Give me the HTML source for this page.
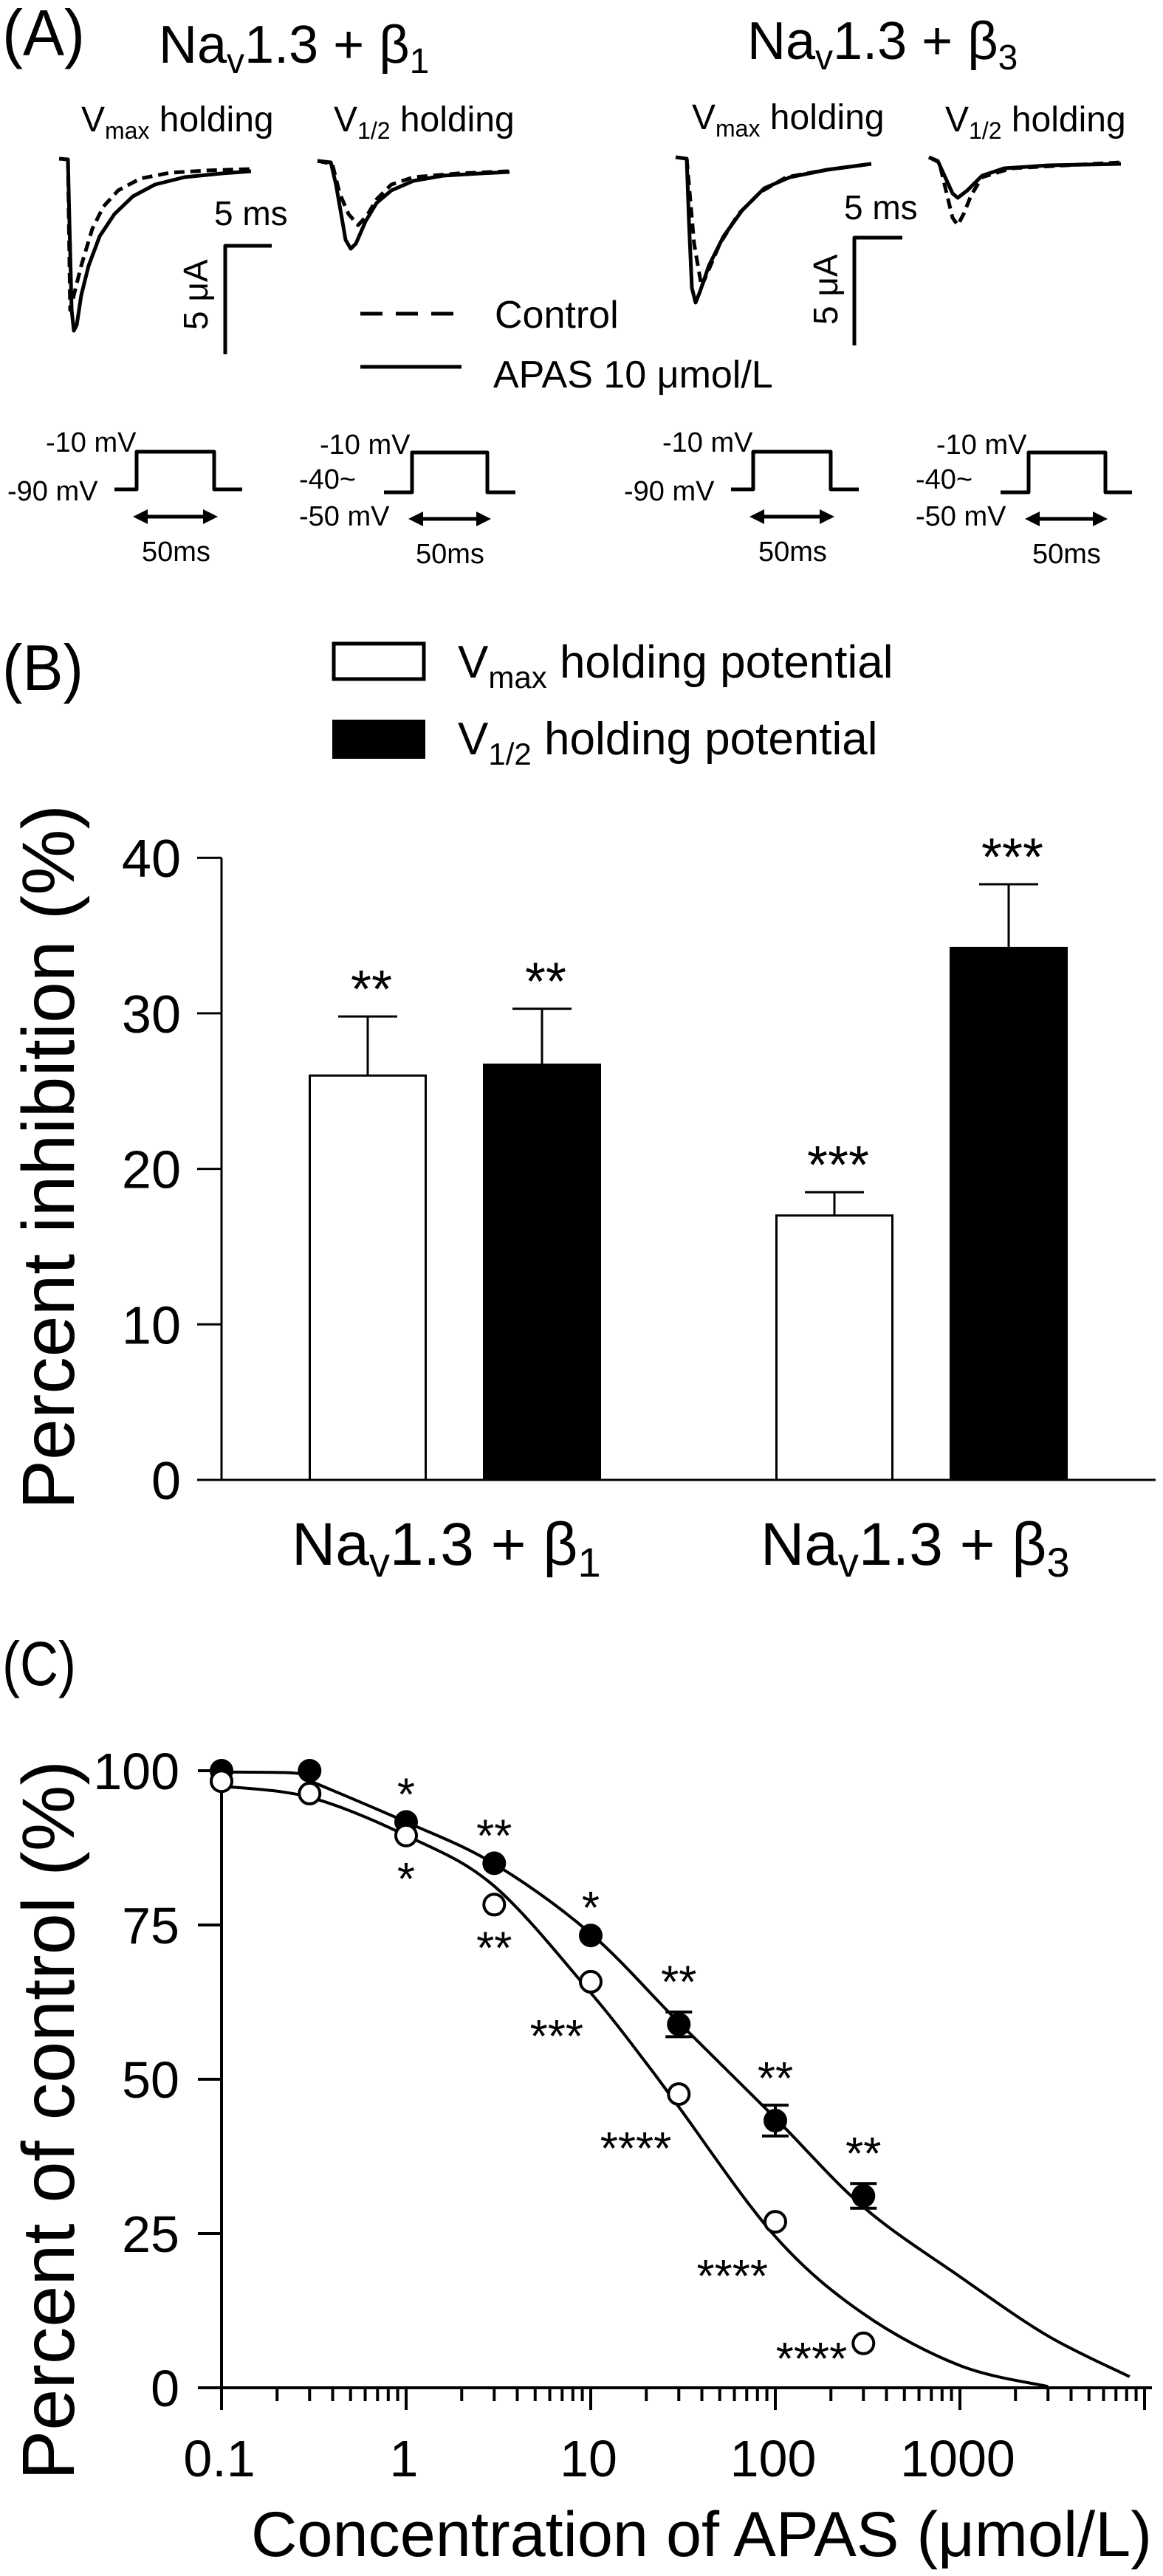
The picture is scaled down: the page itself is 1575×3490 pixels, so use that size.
<!DOCTYPE html>
<html><head><meta charset="utf-8"><style>
html,body{margin:0;padding:0;background:#fff}
svg{display:block}
text{font-family:"Liberation Sans",sans-serif;fill:#000}
</style></head><body>
<svg id="fig" xmlns="http://www.w3.org/2000/svg" width="1575" height="3490" viewBox="0 0 1575 3490">
<rect width="1575" height="3490" fill="#fff"/>
<!-- PANEL A -->
<g id="panelA">
<text x="3" y="75" font-size="88" textLength="112" lengthAdjust="spacingAndGlyphs">(A)</text>
<text x="215" y="85" font-size="72">Na<tspan font-size="48" dy="14">v</tspan><tspan dy="-14">1.3 + β</tspan><tspan font-size="48" dy="14">1</tspan></text>
<text x="1012" y="80" font-size="72">Na<tspan font-size="48" dy="14">v</tspan><tspan dy="-14">1.3 + β</tspan><tspan font-size="48" dy="14">3</tspan></text>
<text x="110" y="178" font-size="48">V<tspan font-size="32" dy="10">max</tspan><tspan dy="-10"> holding</tspan></text>
<text x="452" y="178" font-size="48">V<tspan font-size="32" dy="10">1/2</tspan><tspan dy="-10"> holding</tspan></text>
<text x="937" y="175" font-size="48">V<tspan font-size="32" dy="10">max</tspan><tspan dy="-10"> holding</tspan></text>
<text x="1280" y="178" font-size="48">V<tspan font-size="32" dy="10">1/2</tspan><tspan dy="-10"> holding</tspan></text>
<g fill="none" stroke="#000" stroke-width="5" stroke-linejoin="round">
<path d="M80,215 L92,216 L94,300 L97,420 L100,448 L104,440 L110,400 L120,360 L135,320 L155,290 L180,266 L210,250 L250,240 L300,235 L340,232"/>
<path stroke-dasharray="14 8" d="M92,216 L95,420 L100,400 L110,360 L125,310 L140,280 L160,258 L190,242 L230,234 L280,231 L340,229"/>
<path d="M430,218 L448,220 L455,250 L462,290 L468,325 L475,337 L482,330 L495,300 L510,275 L530,258 L560,245 L600,238 L650,235 L690,233"/>
<path stroke-dasharray="14 8" d="M430,218 L450,222 L460,262 L472,290 L485,305 L497,292 L510,270 L530,250 L560,240 L620,235 L690,232"/>
<path d="M915,213 L930,215 L933,300 L937,390 L942,410 L948,395 L960,360 L980,320 L1005,285 L1035,255 L1070,240 L1120,230 L1180,222"/>
<path stroke-dasharray="14 8" d="M930,215 L940,330 L950,388 L960,365 L975,330 L1000,290 L1030,260 L1065,240 L1120,230 L1180,222"/>
<path d="M1258,213 L1270,218 L1280,240 L1290,262 L1297,268 L1310,258 L1330,238 L1360,228 L1420,224 L1518,222"/>
<path stroke-dasharray="14 8" d="M1258,213 L1272,220 L1282,262 L1290,295 L1297,305 L1305,290 L1315,265 L1330,240 L1370,228 L1518,220"/>
<path d="M368,333 L305,333 L305,480"/>
<path d="M1222,322 L1157,322 L1157,468"/>
<path stroke-dasharray="30 18" d="M488,425 L618,425"/>
<path d="M488,497 L625,497"/>
<path d="M155,663 L185,663 L185,612 L290,612 L290,663 L328,663"/>
<path d="M520,667 L558,667 L558,613 L660,613 L660,667 L698,667"/>
<path d="M990,663 L1020,663 L1020,612 L1125,612 L1125,663 L1163,663"/>
<path d="M1355,667 L1393,667 L1393,613 L1497,613 L1497,667 L1533,667"/>
<path d="M195,700 L280,700"/>
<path d="M568,703 L650,703"/>
<path d="M1030,700 L1115,700"/>
<path d="M1403,703 L1485,703"/>
</g>
<g fill="#000">
<path d="M180,700 L200,690 L200,710Z"/><path d="M295,700 L275,690 L275,710Z"/>
<path d="M553,703 L573,693 L573,713Z"/><path d="M665,703 L645,693 L645,713Z"/>
<path d="M1015,700 L1035,690 L1035,710Z"/><path d="M1130,700 L1110,690 L1110,710Z"/>
<path d="M1388,703 L1408,693 L1408,713Z"/><path d="M1500,703 L1480,693 L1480,713Z"/>
</g>
<text x="290" y="305" font-size="46">5 ms</text>
<text transform="translate(281,447) rotate(-90)" font-size="46">5 μA</text>
<text x="1143" y="297" font-size="46">5 ms</text>
<text transform="translate(1134,440) rotate(-90)" font-size="46">5 μA</text>
<text x="670" y="444" font-size="52">Control</text>
<text x="668" y="525" font-size="52">APAS 10 μmol/L</text>
<g font-size="38">
<text x="62" y="612">-10 mV</text><text x="10" y="678">-90  mV</text><text x="192" y="760">50ms</text>
<text x="433" y="615">-10 mV</text><text x="405" y="662">-40~</text><text x="405" y="712">-50  mV</text><text x="563" y="763">50ms</text>
<text x="897" y="612">-10 mV</text><text x="845" y="678">-90  mV</text><text x="1027" y="760">50ms</text>
<text x="1268" y="615">-10 mV</text><text x="1240" y="662">-40~</text><text x="1240" y="712">-50  mV</text><text x="1398" y="763">50ms</text>
</g>
</g>
<!-- PANEL B -->
<g id="panelB">
<text x="3" y="935" font-size="88" textLength="110" lengthAdjust="spacingAndGlyphs">(B)</text>
<rect x="452" y="872" width="122" height="48" fill="#fff" stroke="#000" stroke-width="5"/>
<rect x="450" y="975" width="126" height="53" fill="#000"/>
<text x="620" y="918" font-size="62">V<tspan font-size="42" dy="14">max</tspan><tspan dy="-14"> holding potential</tspan></text>
<text x="620" y="1022" font-size="62">V<tspan font-size="42" dy="14">1/2</tspan><tspan dy="-14"> holding potential</tspan></text>
<text transform="translate(100,2045) rotate(-90)" font-size="100" textLength="955" lengthAdjust="spacingAndGlyphs">Percent inhibition (%)</text>
<text x="395" y="2120" font-size="82">Na<tspan font-size="56" dy="16">v</tspan><tspan dy="-16">1.3 + β</tspan><tspan font-size="56" dy="16">1</tspan></text>
<text x="1030" y="2120" font-size="82">Na<tspan font-size="56" dy="16">v</tspan><tspan dy="-16">1.3 + β</tspan><tspan font-size="56" dy="16">3</tspan></text>
<g id="bchart"></g>
</g>
<!-- PANEL C -->
<g id="panelC">
<text x="3" y="2283" font-size="84" textLength="100" lengthAdjust="spacingAndGlyphs">(C)</text>
<text transform="translate(100,3360) rotate(-90)" font-size="100" textLength="975" lengthAdjust="spacingAndGlyphs">Percent of control (%)</text>
<text x="340" y="3463" font-size="86" textLength="1220" lengthAdjust="spacingAndGlyphs">Concentration of APAS (μmol/L)</text>
<g id="cchart"></g>
</g>
</svg>
<script>
// ---- Panel B data ----
const bGroups = ["Nav1.3 + β1", "Nav1.3 + β3"];
const bVmax = [26.0, 17.0];
const bVmaxErr = [3.8, 1.5];
const bVhalf = [26.7, 34.2];
const bVhalfErr = [3.6, 4.1];
const bVmaxSig = ["**", "***"];
const bVhalfSig = ["**", "***"];
const bTicks = [0, 10, 20, 30, 40];

// ---- Panel C data ----
const cConc = [0.1, 0.3, 1, 3, 10, 30, 100, 300];
const cFilled = [100, 100, 91.7, 85.0, 73.3, 58.9, 43.3, 31.1];
const cFilledErr = [0, 0, 0, 0, 0, 2.0, 2.5, 2.0];
const cOpen = [98.3, 96.3, 89.5, 78.3, 65.8, 47.6, 26.9, 7.2];
const cFilledSig = ["", "", "*", "**", "*", "**", "**", "**"];
const cOpenSig = ["", "", "*", "**", "***", "****", "****", "****"];
const cFitFilledX = [0.1, 0.25, 0.3, 1, 3, 10, 30, 100, 300, 1000, 3000, 8300];
const cFitFilledY = [99.8, 99.6, 98.4, 91.7, 84.9, 73.6, 59.2, 43.7, 29.3, 18.0, 8.4, 1.8];
const cFitOpenX = [0.1, 0.3, 1, 3, 10, 20, 30, 100, 300, 1000, 3000];
const cFitOpenY = [97.5, 95.7, 89.5, 81.3, 64.0, 52.6, 45.5, 24.5, 12.0, 3.6, 0.2];
const cYTicks = [0, 25, 50, 75, 100];
const cXTicks = [0.1, 1, 10, 100, 1000];
const cXTickLabels = ["0.1", "1", "10", "100", "1000"];

const NS = "http://www.w3.org/2000/svg";
function mk(parent, tag, attrs, txt) {
  const e = document.createElementNS(NS, tag);
  for (const k in attrs) e.setAttribute(k, attrs[k]);
  if (txt !== undefined) e.textContent = txt;
  parent.appendChild(e);
  return e;
}

// ---- Panel B drawing ----
(function () {
  const g = document.getElementById("bchart");
  const y0 = 2005, perUnit = 21.07, axX = 300;
  const yS = v => y0 - v * perUnit;
  const groupCenters = [616, 1248];
  const bw = 157, off = 118;
  const ax = mk(g, "path", { d: `M${axX},${yS(40)} L${axX},${y0} M267,${y0} L1565,${y0}`, stroke: "#000", "stroke-width": 3, fill: "none" });
  
  
  bTicks.forEach(t => {
    const tk = mk(g, "line", { x1: 267, x2: axX, y1: yS(t), y2: yS(t), stroke: "#000", "stroke-width": 3 });
    
    
    const tl = mk(g, "text", { x: 245, y: yS(t) + 26, "font-size": 72, "text-anchor": "end" }, String(t));
    
    
  });
  bGroups.forEach((name, i) => {
    const sets = [[bVmax[i], bVmaxErr[i], bVmaxSig[i], groupCenters[i] - off, "#fff"], [bVhalf[i], bVhalfErr[i], bVhalfSig[i], groupCenters[i] + off, "#000"]];
    sets.forEach((s, j) => {
      const [v, e, sig, cx, fill] = s;
      const top = yS(v + e);
      const err = mk(g, "path", { d: `M${cx},${yS(v)} L${cx},${top} M${cx - 40},${top} L${cx + 40},${top}`, stroke: "#000", "stroke-width": 3, fill: "none" });
      
      
      const bar = mk(g, "rect", { x: cx - bw / 2, y: yS(v), width: bw, height: y0 - yS(v), fill: fill, stroke: "#000", "stroke-width": 3 });
      
      
      const st = mk(g, "text", { x: cx + 5, y: top - 12, "font-size": 72, "text-anchor": "middle" }, sig);
      
      
    });
  });
})();

// ---- Panel C drawing ----
(function () {
  const g = document.getElementById("cchart");
  const x0 = 300, perDec = 250, y0 = 3235, perUnit = 8.36;
  const xS = c => x0 + (Math.log10(c) + 1) * perDec;
  const yS = v => y0 - v * perUnit;
  const ax = mk(g, "path", { d: `M${x0},${yS(100) - 5} L${x0},${y0 + 30} M268,${y0} L1560,${y0}`, stroke: "#000", "stroke-width": 4, fill: "none" });
  
  
  cYTicks.forEach(t => {
    const tk = mk(g, "line", { x1: 268, x2: x0, y1: yS(t), y2: yS(t), stroke: "#000", "stroke-width": 4 });
    
    
    const tl = mk(g, "text", { x: 243, y: yS(t) + 25, "font-size": 70, "text-anchor": "end" }, String(t));
    
    
  });
  for (let d = -1; d <= 3; d++) {
    for (let m = 1; m <= 9; m++) {
      const c = m * Math.pow(10, d);
      const major = m === 1;
      const tk = mk(g, "line", { x1: xS(c), x2: xS(c), y1: y0, y2: y0 + (major ? 30 : 18), stroke: "#000", "stroke-width": 4 });
      
      
    }
  }
  { const tk = mk(g, "line", { x1: xS(10000), x2: xS(10000), y1: y0, y2: y0 + 30, stroke: "#000", "stroke-width": 4 });
    
     }
  cXTicks.forEach((c, i) => {
    const tl = mk(g, "text", { x: xS(c) - 3, y: 3355, "font-size": 70, "text-anchor": "middle" }, cXTickLabels[i]);
    
    
  });
  const smooth = (xs, ys) => {
    const P = xs.map((c, i) => [xS(c), yS(ys[i])]);
    let d = `M${P[0][0].toFixed(1)},${P[0][1].toFixed(1)}`;
    for (let i = 0; i < P.length - 1; i++) {
      const p0 = P[Math.max(0, i - 1)], p1 = P[i], p2 = P[i + 1], p3 = P[Math.min(P.length - 1, i + 2)];
      const c1 = [p1[0] + (p2[0] - p0[0]) / 6, p1[1] + (p2[1] - p0[1]) / 6];
      const c2 = [p2[0] - (p3[0] - p1[0]) / 6, p2[1] - (p3[1] - p1[1]) / 6];
      d += ` C${c1[0].toFixed(1)},${c1[1].toFixed(1)} ${c2[0].toFixed(1)},${c2[1].toFixed(1)} ${p2[0].toFixed(1)},${p2[1].toFixed(1)}`;
    }
    return d;
  };
  const f1 = mk(g, "path", { d: smooth(cFitFilledX, cFitFilledY), stroke: "#000", "stroke-width": 4, fill: "none", "stroke-linejoin": "round" });
  
  
  const f2 = mk(g, "path", { d: smooth(cFitOpenX, cFitOpenY), stroke: "#000", "stroke-width": 4, fill: "none", "stroke-linejoin": "round" });
  
  
  cConc.forEach((c, i) => {
    const x = xS(c), y = yS(cFilled[i]);
    if (cFilledErr[i] > 0) {
      const e = cFilledErr[i];
      const eb = mk(g, "path", { d: `M${x},${yS(cFilled[i] + e)} L${x},${yS(cFilled[i] - e)} M${x - 18},${yS(cFilled[i] + e)} L${x + 18},${yS(cFilled[i] + e)} M${x - 18},${yS(cFilled[i] - e)} L${x + 18},${yS(cFilled[i] - e)}`, stroke: "#000", "stroke-width": 4, fill: "none" });
      
      
    }
    const p = mk(g, "circle", { cx: x, cy: y, r: 16, fill: "#000" });
    
    
    const q = mk(g, "circle", { cx: xS(c), cy: yS(cOpen[i]), r: 14, fill: "#fff", stroke: "#000", "stroke-width": 4 });
    
    
    if (cFilledSig[i]) {
      const s = mk(g, "text", { x: x, y: y - 16 - (cFilledErr[i] ? 20 : 0), "font-size": 62, "text-anchor": "middle" }, cFilledSig[i]);
      
      
    }
    if (cOpenSig[i]) {
      const yo = yS(cOpen[i]);
      let s;
      if (i <= 3) s = mk(g, "text", { x: x, y: yo + 80, "font-size": 62, "text-anchor": "middle" }, cOpenSig[i]);
      else if (i === 7) s = mk(g, "text", { x: x - 22, y: yo + 42, "font-size": 62, "text-anchor": "end" }, cOpenSig[i]);
      else s = mk(g, "text", { x: x - 10, y: yo + 95, "font-size": 62, "text-anchor": "end" }, cOpenSig[i]);
      
      
    }
  });
})();
</script>
</body></html>
